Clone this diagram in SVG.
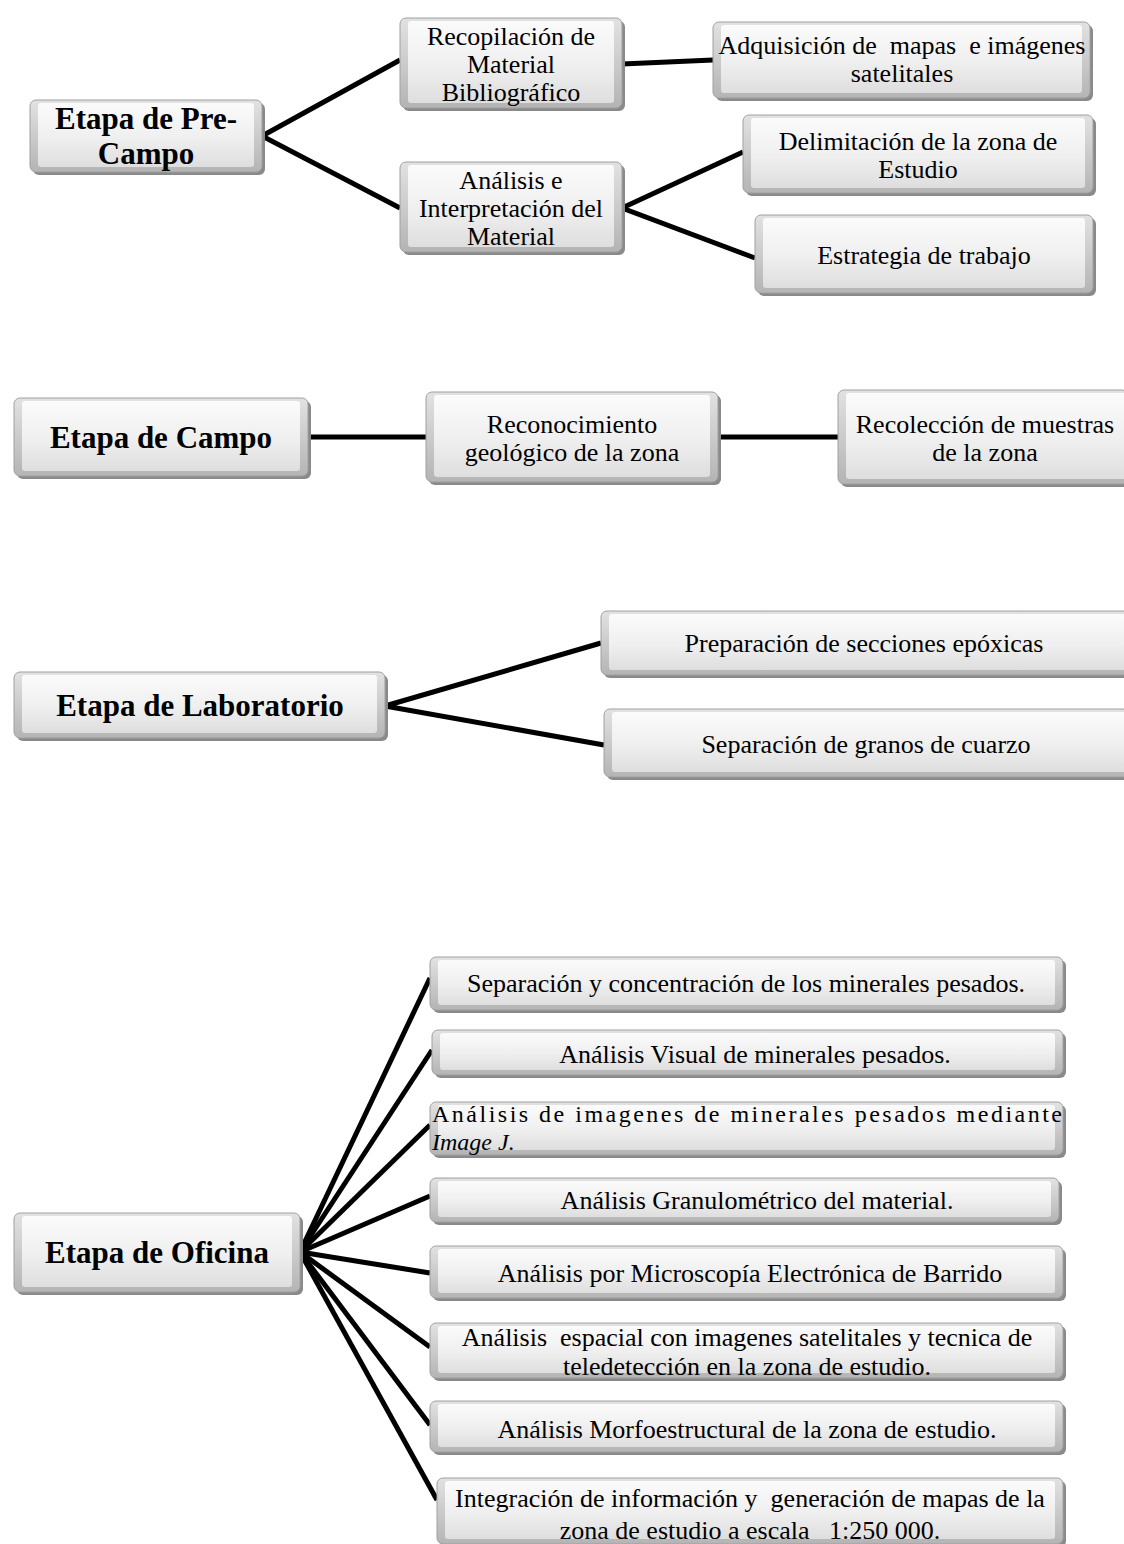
<svg xmlns="http://www.w3.org/2000/svg" width="1124" height="1544" viewBox="0 0 1124 1544" font-family="'Liberation Serif', 'Times New Roman', 'DejaVu Serif', serif">
  <defs>
    <linearGradient id="face" x1="0" y1="0" x2="0" y2="1">
      <stop offset="0" stop-color="#fbfbfb"/>
      <stop offset="0.55" stop-color="#efefef"/>
      <stop offset="1" stop-color="#dedede"/>
    </linearGradient>
    <linearGradient id="rim" x1="0" y1="0" x2="0" y2="1">
      <stop offset="0" stop-color="#e2e2e2"/>
      <stop offset="1" stop-color="#b4b4b4"/>
    </linearGradient>
    <style>
      .shadow { fill: #8a8a8a; }
      .rim { fill: url(#rim); stroke: #a0a0a0; stroke-width: 1; }
      .face { fill: url(#face); }
      .lbl { font-family: 'Liberation Serif', 'Times New Roman', 'DejaVu Serif', serif; font-size: 26px; fill: #000; text-anchor: middle; }
      .head { font-family: 'Liberation Serif', 'Times New Roman', 'DejaVu Serif', serif; font-size: 31px; font-weight: bold; fill: #000; text-anchor: middle; }
      .left { text-anchor: start; font-size: 24px; }
      .wire { stroke: #000; stroke-width: 5; fill: none; stroke-linecap: butt; }
    </style>
  </defs>

  <!-- connectors -->
  <g id="connectors">
    <polyline class="wire" points="400,60 262,136 400,208"/>
    <line class="wire" x1="622" y1="64" x2="713" y2="60"/>
    <polyline class="wire" points="743,152 622,208 755,258"/>
    <line class="wire" x1="308" y1="437" x2="426" y2="437"/>
    <line class="wire" x1="718" y1="437" x2="838" y2="437"/>
    <polyline class="wire" points="601,643 385,706 604,745"/>
    <line class="wire" x1="300" y1="1252" x2="430" y2="978"/>
    <line class="wire" x1="300" y1="1252" x2="432" y2="1050"/>
    <line class="wire" x1="300" y1="1252" x2="430" y2="1125"/>
    <line class="wire" x1="300" y1="1252" x2="430" y2="1196"/>
    <line class="wire" x1="300" y1="1252" x2="430" y2="1273"/>
    <line class="wire" x1="300" y1="1252" x2="430" y2="1347"/>
    <line class="wire" x1="300" y1="1252" x2="430" y2="1425"/>
    <line class="wire" x1="300" y1="1252" x2="437" y2="1500"/>
  </g>

  <!-- Etapa de Pre-Campo -->
  <g id="precampo">
    <rect class="shadow" x="33" y="103" width="232" height="72" rx="6"/>
    <rect class="rim" x="30" y="100" width="232" height="72" rx="6"/>
    <rect class="face" x="38" y="103" width="216" height="64" rx="3"/>
    <text class="head" x="146" y="129">Etapa de Pre-</text>
    <text class="head" x="146" y="164">Campo</text>
  </g>

  <g id="recopilacion">
    <rect class="shadow" x="403" y="21" width="222" height="90" rx="6"/>
    <rect class="rim" x="400" y="18" width="222" height="90" rx="6"/>
    <rect class="face" x="408" y="21" width="206" height="82" rx="3"/>
    <text class="lbl" x="511" y="45">Recopilación de</text>
    <text class="lbl" x="511" y="73">Material</text>
    <text class="lbl" x="511" y="101">Bibliográfico</text>
  </g>

  <g id="adquisicion">
    <rect class="shadow" x="716" y="25" width="377" height="76" rx="6"/>
    <rect class="rim" x="713" y="22" width="377" height="76" rx="6"/>
    <rect class="face" x="721" y="25" width="361" height="68" rx="3"/>
    <text class="lbl" x="902" y="54" xml:space="preserve">Adquisición de  mapas  e imágenes</text>
    <text class="lbl" x="902" y="82">satelitales</text>
  </g>

  <g id="analisis">
    <rect class="shadow" x="403" y="165" width="222" height="90" rx="6"/>
    <rect class="rim" x="400" y="162" width="222" height="90" rx="6"/>
    <rect class="face" x="408" y="165" width="206" height="82" rx="3"/>
    <text class="lbl" x="511" y="189">Análisis e</text>
    <text class="lbl" x="511" y="217">Interpretación del</text>
    <text class="lbl" x="511" y="245">Material</text>
  </g>

  <g id="delimitacion">
    <rect class="shadow" x="746" y="118" width="350" height="78" rx="6"/>
    <rect class="rim" x="743" y="115" width="350" height="78" rx="6"/>
    <rect class="face" x="751" y="118" width="334" height="70" rx="3"/>
    <text class="lbl" x="918" y="150">Delimitación de la zona de</text>
    <text class="lbl" x="918" y="178">Estudio</text>
  </g>

  <g id="estrategia">
    <rect class="shadow" x="758" y="218" width="338" height="78" rx="6"/>
    <rect class="rim" x="755" y="215" width="338" height="78" rx="6"/>
    <rect class="face" x="763" y="218" width="322" height="70" rx="3"/>
    <text class="lbl" x="924" y="264">Estrategia de trabajo</text>
  </g>

  <!-- Etapa de Campo -->
  <g id="campo">
    <rect class="shadow" x="17" y="401" width="294" height="78" rx="6"/>
    <rect class="rim" x="14" y="398" width="294" height="78" rx="6"/>
    <rect class="face" x="22" y="401" width="278" height="70" rx="3"/>
    <text class="head" x="161" y="448">Etapa de Campo</text>
  </g>

  <g id="reconocimiento">
    <rect class="shadow" x="429" y="395" width="292" height="90" rx="6"/>
    <rect class="rim" x="426" y="392" width="292" height="90" rx="6"/>
    <rect class="face" x="434" y="395" width="276" height="82" rx="3"/>
    <text class="lbl" x="572" y="433">Reconocimiento</text>
    <text class="lbl" x="572" y="461">geológico de la zona</text>
  </g>

  <g id="recoleccion">
    <rect class="shadow" x="841" y="393" width="290" height="94" rx="6"/>
    <rect class="rim" x="838" y="390" width="290" height="94" rx="6"/>
    <rect class="face" x="846" y="393" width="280" height="86" rx="3"/>
    <text class="lbl" x="985" y="433">Recolección de muestras</text>
    <text class="lbl" x="985" y="461">de la zona</text>
  </g>

  <!-- Etapa de Laboratorio -->
  <g id="laboratorio">
    <rect class="shadow" x="17" y="675" width="371" height="66" rx="6"/>
    <rect class="rim" x="14" y="672" width="371" height="66" rx="6"/>
    <rect class="face" x="22" y="675" width="355" height="58" rx="3"/>
    <text class="head" x="200" y="716">Etapa de Laboratorio</text>
  </g>

  <g id="preparacion">
    <rect class="shadow" x="604" y="614" width="528" height="64" rx="6"/>
    <rect class="rim" x="601" y="611" width="528" height="64" rx="6"/>
    <rect class="face" x="609" y="614" width="520" height="56" rx="3"/>
    <text class="lbl" x="864" y="652">Preparación de secciones epóxicas</text>
  </g>

  <g id="separacion-cuarzo">
    <rect class="shadow" x="607" y="712" width="525" height="68" rx="6"/>
    <rect class="rim" x="604" y="709" width="525" height="68" rx="6"/>
    <rect class="face" x="612" y="712" width="517" height="60" rx="3"/>
    <text class="lbl" x="866" y="753">Separación de granos de cuarzo</text>
  </g>

  <!-- Etapa de Oficina -->
  <g id="oficina">
    <rect class="shadow" x="17" y="1216" width="286" height="79" rx="6"/>
    <rect class="rim" x="14" y="1213" width="286" height="79" rx="6"/>
    <rect class="face" x="22" y="1216" width="270" height="71" rx="3"/>
    <text class="head" x="157" y="1263">Etapa de Oficina</text>
  </g>

  <g id="of1">
    <rect class="shadow" x="433" y="960" width="633" height="53" rx="6"/>
    <rect class="rim" x="430" y="957" width="633" height="53" rx="6"/>
    <rect class="face" x="438" y="960" width="617" height="45" rx="3"/>
    <text class="lbl" x="746" y="992">Separación y concentración de los minerales pesados.</text>
  </g>

  <g id="of2">
    <rect class="shadow" x="435" y="1033" width="631" height="45" rx="6"/>
    <rect class="rim" x="432" y="1030" width="631" height="45" rx="6"/>
    <rect class="face" x="440" y="1033" width="615" height="37" rx="3"/>
    <text class="lbl" x="755" y="1063">Análisis Visual de minerales pesados.</text>
  </g>

  <g id="of3">
    <rect class="shadow" x="433" y="1105" width="633" height="53" rx="6"/>
    <rect class="rim" x="430" y="1102" width="633" height="53" rx="6"/>
    <rect class="face" x="438" y="1105" width="617" height="45" rx="3"/>
    <text class="lbl left" x="432" y="1122" textLength="630" lengthAdjust="spacing">Análisis de imagenes de minerales pesados mediante</text>
    <text class="lbl left" x="432" y="1150" font-style="italic">Image J.</text>
  </g>

  <g id="of4">
    <rect class="shadow" x="433" y="1181" width="629" height="44" rx="6"/>
    <rect class="rim" x="430" y="1178" width="629" height="44" rx="6"/>
    <rect class="face" x="438" y="1181" width="613" height="36" rx="3"/>
    <text class="lbl" x="757" y="1209">Análisis Granulométrico del material.</text>
  </g>

  <g id="of5">
    <rect class="shadow" x="433" y="1249" width="633" height="52" rx="6"/>
    <rect class="rim" x="430" y="1246" width="633" height="52" rx="6"/>
    <rect class="face" x="438" y="1249" width="617" height="44" rx="3"/>
    <text class="lbl" x="750" y="1282">Análisis por Microscopía Electrónica de Barrido</text>
  </g>

  <g id="of6">
    <rect class="shadow" x="433" y="1326" width="633" height="55" rx="6"/>
    <rect class="rim" x="430" y="1323" width="633" height="55" rx="6"/>
    <rect class="face" x="438" y="1326" width="617" height="47" rx="3"/>
    <text class="lbl" x="747" y="1346" xml:space="preserve">Análisis  espacial con imagenes satelitales y tecnica de</text>
    <text class="lbl" x="747" y="1375">teledetección en la zona de estudio.</text>
  </g>

  <g id="of7">
    <rect class="shadow" x="433" y="1404" width="633" height="51" rx="6"/>
    <rect class="rim" x="430" y="1401" width="633" height="51" rx="6"/>
    <rect class="face" x="438" y="1404" width="617" height="43" rx="3"/>
    <text class="lbl" x="747" y="1438">Análisis Morfoestructural de la zona de estudio.</text>
  </g>

  <g id="of8">
    <rect class="shadow" x="440" y="1481" width="626" height="66" rx="6"/>
    <rect class="rim" x="437" y="1478" width="626" height="66" rx="6"/>
    <rect class="face" x="445" y="1481" width="610" height="58" rx="3"/>
    <text class="lbl" x="750" y="1507" xml:space="preserve">Integración de información y  generación de mapas de la</text>
    <text class="lbl" x="750" y="1539" xml:space="preserve">zona de estudio a escala   1:250 000.</text>
  </g>
</svg>
